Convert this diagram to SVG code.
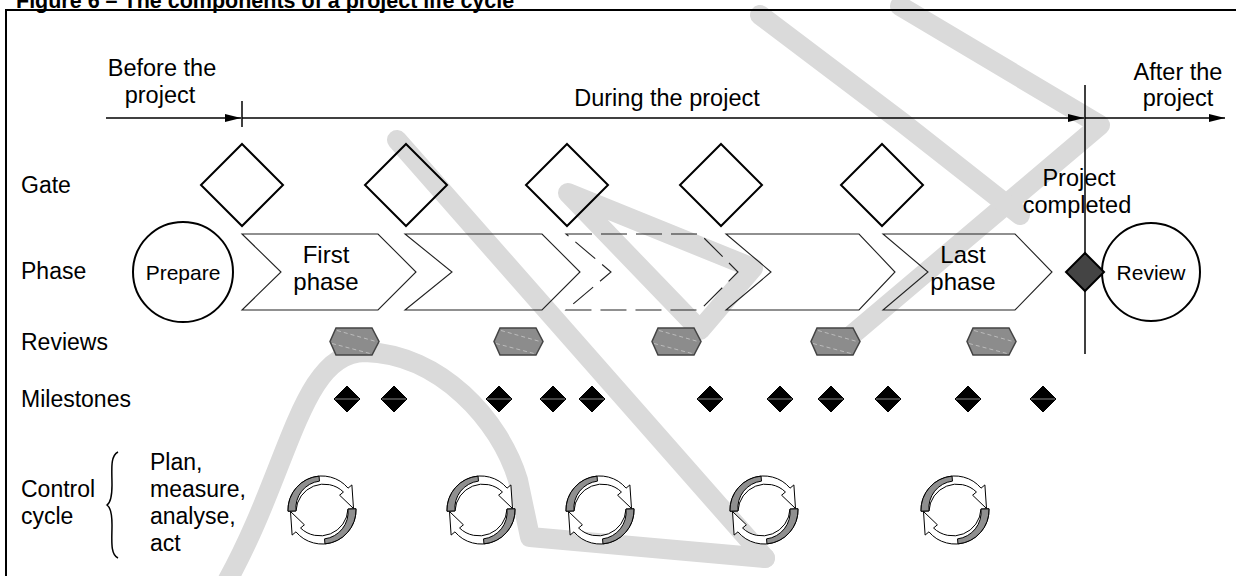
<svg xmlns="http://www.w3.org/2000/svg" width="1236" height="576" viewBox="0 0 1236 576">
  <style>
    text { font-family: "Liberation Sans", Arial, sans-serif; fill: #000; }
    .title { font-size: 21.5px; font-weight: bold; }
    .lbl { font-size: 23px; }
    .tl { font-size: 23.5px; text-anchor: middle; }
    .ph { font-size: 24px; text-anchor: middle; }
    .circ { font-size: 21px; text-anchor: middle; }
    .axis { stroke: #000; stroke-width: 1.5; fill: none; }
    .gate { fill: none; stroke: #000; stroke-width: 2; }
    .chev { fill: none; stroke: #222; stroke-width: 1.1; }
    .dashed { stroke-dasharray: 26 9; }
    .hex { fill: #8c8c8c; stroke: #444; stroke-width: 1.5; }
    .hexline { stroke: #c8c8c8; stroke-width: 0.8; stroke-dasharray: 4 3; }
    .ms { fill: #000; stroke: #000; stroke-width: 1; }
    .msline { stroke: #888; stroke-width: 1; }
    .ring { fill: #fff; stroke: #000; stroke-width: 1; }
    .ringshade { fill: #8f8f8f; stroke: #000; stroke-width: 1; }
    .wm { fill: none; stroke: #dadada; stroke-width: 20; stroke-linecap: round; stroke-linejoin: round; }
  </style>
  <defs>
    <marker id="arrow" viewBox="0 0 16 8" refX="16" refY="4" markerWidth="16" markerHeight="8" markerUnits="userSpaceOnUse" orient="auto">
      <path d="M0,0 L16,4 L0,8 Z" fill="#000"/>
    </marker>
    <!-- half of the plan/measure/analyse/act ring: one curved arrow,
         shaded where the ribbon turns away near its tail -->
    <g id="half-ring">
      <path class="ring" d="M -33.98,1.19 A 34 34 0 0 1 26.05,-21.85 L 29.88,-25.07 L 31.5,-1.5 L 17.6,-14.8 L 21.45,-18.0 A 28 28 0 0 0 -25.98,0.91 Z"/>
      <path class="ringshade" d="M -33.98,1.19 A 34 34 0 0 1 -2.96,-33.87 L -2.53,-28.89 A 27 27 0 0 0 -25.98,0.91 Z"/>
    </g>
    <g id="ring">
      <use href="#half-ring"/>
      <use href="#half-ring" transform="rotate(180)"/>
    </g>
    <g id="review-hex">
      <path class="hex" d="M-18,-13.5 L18,-13.5 L25,0 L18,13.5 L-18,13.5 L-24,0 Z"/>
      <line class="hexline" x1="-17" y1="-11" x2="22" y2="0"/>
      <line class="hexline" x1="-22" y1="2" x2="16" y2="12"/>
    </g>
    <g id="milestone">
      <path class="ms" d="M0,-13 L13,0 L0,13 L-13,0 Z"/>
      <line class="msline" x1="-12" y1="0" x2="12" y2="0"/>
    </g>
  </defs>

  <!-- light grey background strokes -->
  <g id="watermark">
    <path class="wm" d="M397,140 L765,558"/>
    <path class="wm" d="M568,193 L753,268 L700,330 Z"/>
    <path class="wm" d="M900,6 L1100,125 L840,345"/>
    <path class="wm" d="M760,15 L903,123 L1020,215"/>
    <path class="wm" d="M225,585 C290,470 300,352 365,352 C440,354 500,420 518,480 L530,537 L765,558"/>
  </g>

  <!-- caption and frame -->
  <text class="title" x="16" y="8">Figure 6 – The components of a project life cycle</text>
  <rect x="6" y="10" width="1240" height="580" fill="none" stroke="#000" stroke-width="2"/>

  <!-- row labels -->
  <g id="row-labels">
    <text class="lbl" x="21" y="193">Gate</text>
    <text class="lbl" x="21" y="279">Phase</text>
    <text class="lbl" x="21" y="350">Reviews</text>
    <text class="lbl" x="21" y="407">Milestones</text>
    <text class="lbl" x="21" y="497">Control</text>
    <text class="lbl" x="21" y="524">cycle</text>
  </g>

  <!-- time axis -->
  <g id="connectors">
    <line class="axis" x1="106" y1="118" x2="241" y2="118" marker-end="url(#arrow)"/>
    <line class="axis" x1="242" y1="101" x2="242" y2="127"/>
    <line class="axis" x1="242" y1="118" x2="1084" y2="118" marker-end="url(#arrow)"/>
    <line class="axis" x1="1085" y1="85" x2="1085" y2="354"/>
    <line class="axis" x1="1085" y1="118" x2="1225" y2="118" marker-end="url(#arrow)"/>
  </g>
  <g id="period-labels">
    <text class="tl" x="162" y="76">Before the</text>
    <text class="tl" x="160" y="103">project</text>
    <text class="tl" x="667" y="106">During the project</text>
    <text class="tl" x="1178" y="80">After the</text>
    <text class="tl" x="1178" y="106">project</text>
  </g>

  <!-- gates -->
  <g id="gate-1"><path class="gate" d="M242,144 L283,185 L242,226 L201,185 Z"/></g>
  <g id="gate-2"><path class="gate" d="M406,144 L447,185 L406,226 L365,185 Z"/></g>
  <g id="gate-3"><path class="gate" d="M567,144 L608,185 L567,226 L526,185 Z"/></g>
  <g id="gate-4"><path class="gate" d="M721,144 L762,185 L721,226 L680,185 Z"/></g>
  <g id="gate-5"><path class="gate" d="M882,144 L923,185 L882,226 L841,185 Z"/></g>

  <!-- before / after the project -->
  <g id="prepare">
    <circle cx="183" cy="272" r="50" fill="none" stroke="#000" stroke-width="2"/>
    <text class="circ" x="183" y="280">Prepare</text>
  </g>
  <g id="review">
    <circle cx="1151" cy="272" r="49" fill="none" stroke="#000" stroke-width="2"/>
    <text class="circ" x="1151" y="280">Review</text>
  </g>

  <!-- phases -->
  <g id="phase-1">
    <path class="chev" d="M242,234 L378,234 L416,272 L378,310 L242,310 L281,272 Z"/>
    <text class="ph" x="326" y="263">First</text>
    <text class="ph" x="326" y="290">phase</text>
  </g>
  <g id="phase-2"><path class="chev" d="M405,234 L542,234 L580,272 L542,310 L405,310 L452,272 Z"/></g>
  <g id="phase-3"><path class="chev dashed" d="M566,234 L700,234 L738,272 L700,310 L566,310 L611,272 Z"/></g>
  <g id="phase-4"><path class="chev" d="M726,234 L859,234 L895,272 L859,310 L726,310 L771,272 Z"/></g>
  <g id="phase-5">
    <path class="chev" d="M883,234 L1015,234 L1052,272 L1015,310 L883,310 L928,272 Z"/>
    <text class="ph" x="963" y="263">Last</text>
    <text class="ph" x="963" y="290">phase</text>
  </g>

  <!-- project completed -->
  <g id="project-completed">
    <text class="tl" x="1079" y="186">Project</text>
    <text class="tl" x="1077" y="213">completed</text>
    <path d="M1085,253 L1104,272 L1085,291 L1066,272 Z" fill="#444" stroke="#000" stroke-width="2"/>
  </g>

  <!-- reviews -->
  <g id="reviews">
    <use href="#review-hex" x="354" y="341.5"/>
    <use href="#review-hex" x="518" y="341.5"/>
    <use href="#review-hex" x="676" y="341.5"/>
    <use href="#review-hex" x="835" y="341.5"/>
    <use href="#review-hex" x="991" y="341.5"/>
  </g>

  <!-- milestones -->
  <g id="milestones">
    <use href="#milestone" x="347" y="399"/>
    <use href="#milestone" x="394" y="399"/>
    <use href="#milestone" x="499" y="399"/>
    <use href="#milestone" x="553" y="399"/>
    <use href="#milestone" x="592" y="399"/>
    <use href="#milestone" x="710" y="399"/>
    <use href="#milestone" x="780" y="399"/>
    <use href="#milestone" x="831" y="399"/>
    <use href="#milestone" x="888" y="399"/>
    <use href="#milestone" x="968" y="399"/>
    <use href="#milestone" x="1043" y="399"/>
  </g>

  <!-- control cycle -->
  <g id="control-cycle-legend">
    <path d="M118,452 C110,456 112,470 112,485 C112,497 110,503 107,505 C110,507 112,513 112,525 C112,540 110,554 118,558" fill="none" stroke="#000" stroke-width="1.5"/>
    <text class="lbl" x="150" y="470">Plan,</text>
    <text class="lbl" x="150" y="497">measure,</text>
    <text class="lbl" x="150" y="524">analyse,</text>
    <text class="lbl" x="150" y="551">act</text>
  </g>
  <g id="control-cycles">
    <use href="#ring" transform="translate(322,510)"/>
    <use href="#ring" transform="translate(481,510)"/>
    <use href="#ring" transform="translate(600,510)"/>
    <use href="#ring" transform="translate(764,510)"/>
    <use href="#ring" transform="translate(955,510)"/>
  </g>
</svg>
